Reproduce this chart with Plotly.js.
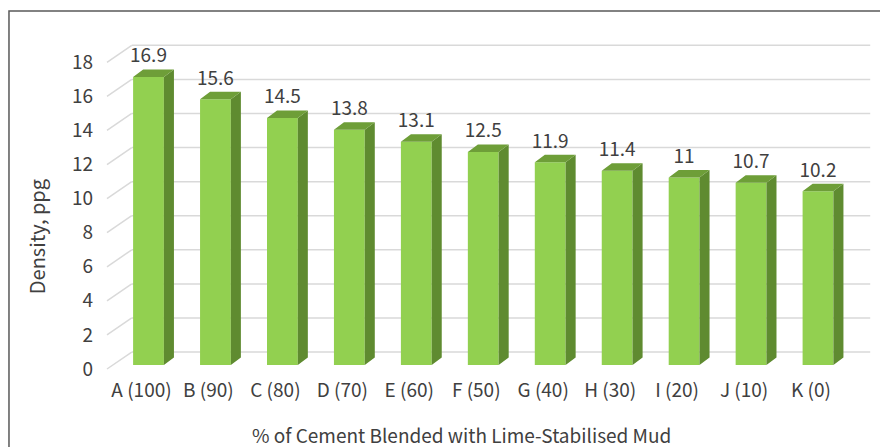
<!DOCTYPE html>
<html>
<head>
<meta charset="utf-8">
<script src="https://cdn.plot.ly/plotly-3.0.1.min.js"></script>
<style>html,body{margin:0;padding:0;background:#fff;}#chart{width:880px;height:447px;}</style>
</head>
<body>
<div id="chart"></div>
<script>
// ---- data ----
const categories = ["A (100)", "B (90)", "C (80)", "D (70)", "E (60)", "F (50)", "G (40)", "H (30)", "I (20)", "J (10)", "K (0)"];
const density = [16.9, 15.6, 14.5, 13.8, 13.1, 12.5, 11.9, 11.4, 11, 10.7, 10.2];
const yTicks = [0, 2, 4, 6, 8, 10, 12, 14, 16, 18];
const xTitle = "% of Cement Blended with Lime-Stabilised Mud";
const yTitle = "Density, ppg";

// ---- 3D look parameters (in axis units) ----
const W = 0.46;      // bar front width
const DX = 0.15;     // depth offset x
const DY = 0.44;     // depth offset y
const WALL_DY = 0.76, WALL_X = -0.25, FRONT_X = -0.62, FRONT_DY = -0.235, RIGHT_X = 10.78;

const xs = categories.map((c, i) => i);

const sideX = [], sideY = [], topX = [], topY = [];
density.forEach((v, i) => {
  const r = i + W / 2, l = i - W / 2;
  sideX.push(r, r + DX, r + DX, r, r, null);
  sideY.push(0, DY, v + DY, v, 0, null);
  topX.push(l, l + DX, r + DX, r, l, null);
  topY.push(v, v + DY, v + DY, v, v, null);
});

const font = 'Noto Sans CJK SC, sans-serif';
const traces = [
  {type: 'bar', x: xs, y: density, width: W, marker: {color: '#92D050', line: {width: 0}}, hoverinfo: 'skip'},
  {type: 'scatter', mode: 'lines', x: sideX, y: sideY, fill: 'toself', fillcolor: '#5F8B30', line: {width: 0, color: '#5F8B30'}, hoverinfo: 'skip'},
  {type: 'scatter', mode: 'lines', x: topX, y: topY, fill: 'toself', fillcolor: '#6E9E38', line: {width: 0, color: '#6E9E38'}, hoverinfo: 'skip'},
  {type: 'scatter', mode: 'text', x: xs, y: density.map(v => v + DY + 0.7), text: density.map(v => String(v)),
   textposition: 'middle center', textfont: {family: font, size: 19, color: '#404040'}, hoverinfo: 'skip'}
];

const shapes = [];
yTicks.forEach(t => {
  shapes.push({type: 'line', layer: 'below', xref: 'x', yref: 'y', x0: WALL_X, x1: RIGHT_X, y0: t + WALL_DY, y1: t + WALL_DY, line: {color: '#D9D9D9', width: 1.5}});
  shapes.push({type: 'line', layer: 'below', xref: 'x', yref: 'y', x0: FRONT_X, x1: WALL_X, y0: t + FRONT_DY, y1: t + WALL_DY, line: {color: '#D9D9D9', width: 1.5}});
});
shapes.push({type: 'rect', xref: 'paper', yref: 'paper', x0: -0.1179, x1: 1.2, y0: -0.6, y1: 1.0873, line: {color: '#595959', width: 1.5}, fillcolor: 'rgba(0,0,0,0)'});

const layout = {
  width: 880, height: 447,
  margin: {l: 100, r: 8, t: 40, b: 75},
  paper_bgcolor: '#fff', plot_bgcolor: 'rgba(0,0,0,0)',
  showlegend: false,
  font: {family: font, color: '#404040'},
  xaxis: {range: [-0.7244, 10.8066], tickvals: xs, ticktext: categories, showgrid: false, zeroline: false, showline: false,
          ticks: '', tickfont: {family: font, size: 19, color: '#404040'}, ticklabelshift: -7, ticklabelstandoff: 5, fixedrange: true},
  yaxis: {range: [-0.411, 19.073], tickvals: yTicks, showgrid: false, zeroline: false, showline: false,
          ticks: '', tickfont: {family: font, size: 19, color: '#404040'}, ticklabelshift: 4, ticklabelstandoff: 6, fixedrange: true},
  shapes: shapes,
  annotations: [
    {text: xTitle, xref: 'x', yref: 'paper', x: 4.668, y: 0, yshift: -62, xanchor: 'center', yanchor: 'middle', showarrow: false,
     font: {family: font, size: 19, color: '#404040'}},
    {text: yTitle, xref: 'paper', yref: 'y', x: 0, xshift: -64, y: 7.5, xanchor: 'center', yanchor: 'middle', textangle: -90, showarrow: false,
     font: {family: font, size: 20, color: '#404040'}}
  ]
};

Plotly.newPlot('chart', traces, layout, {staticPlot: true, displayModeBar: false});
</script>
</body>
</html>
